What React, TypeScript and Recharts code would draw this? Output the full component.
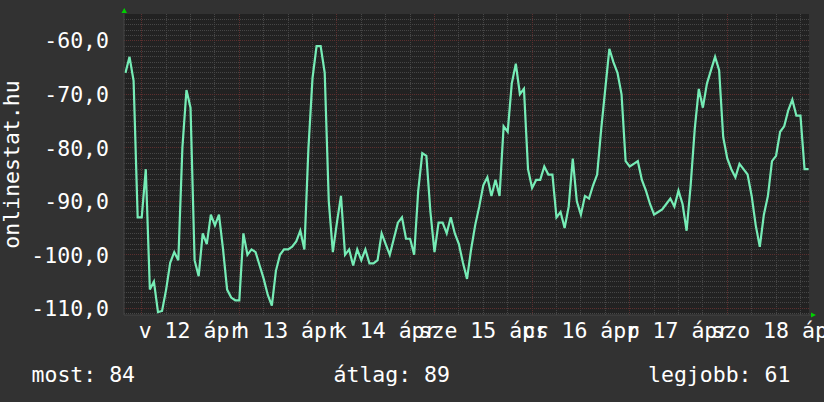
import {
  LineChart,
  Line,
  XAxis,
  YAxis,
  CartesianGrid,
  ReferenceLine,
  ReferenceDot,
} from 'recharts'

// hours relative to Apr 12 00:00, one sample per hour
const START_HOUR = -4
const SIGNAL = [
  -66, -63, -67.5, -93, -93, -84, -106.5, -105, -110.7, -110.5,
  -106.5, -101.5, -99.5, -101, -80, -69.2, -72.5, -101, -104, -96,
  -98, -92.5, -94.5, -92.5, -99, -106.5, -108, -108.5, -108.5, -96,
  -100, -99, -99.5, -102, -104.5, -107.5, -109.5, -103, -100, -99,
  -99, -98.5, -97.5, -95.5, -99, -80, -67, -61, -61, -66,
  -90, -99.5, -94, -89, -100, -99, -102, -99, -101, -99,
  -101.6, -101.6, -101, -96, -98, -100, -97, -94, -93, -97,
  -97, -100, -88, -81, -81.5, -92, -99.5, -94, -94, -96,
  -93, -96, -98, -101.5, -104.5, -99, -94.5, -91, -87, -85.5,
  -89, -86, -89, -76, -77, -68, -64.3, -70, -69, -84,
  -87.5, -86, -86, -83.5, -85, -85, -93, -92, -95, -91,
  -82, -90, -92.5, -89, -89.5, -87, -85, -76.5, -69, -61.5,
  -64, -66, -70, -82.5, -83.5, -83, -82.5, -86, -88, -90.5,
  -92.5, -92, -91.5, -90.5, -89.5, -91, -88, -90.5, -95.5, -87,
  -76.5, -69, -72.5, -68, -65.5, -63, -65.5, -78, -82, -84,
  -85.5, -83, -84, -85, -89, -94.5, -98.5, -92.5, -89, -82.5,
  -81.5, -77, -76, -73, -71, -74, -74, -84, -84,
]

const X_DOMAIN = [-4.36, 164.1]
const Y_DOMAIN = [-111.25, -55]
const Y_TICKS = [-110, -100, -90, -80, -70, -60]
const DAY_TICKS = [12, 36, 60, 84, 108, 132, 156]
const DAY_LABELS = ['v 12 ápr', 'h 13 ápr', 'k 14 ápr', 'sze 15 ápr', 'cs 16 ápr', 'p 17 ápr', 'szo 18 ápr']
const LEGEND_LABELS = ['most', 'átlag', 'legjobb']
const LEGEND_VALUES = [84, 89, 61]
const LEGEND_X = [31.5, 333.5, 648]

const FONT = '"DejaVu Sans Mono", monospace'
const FONT_SIZE = 21.5
const BACK = '#323232'
const CANVAS = '#222222'
const MINOR = '#464646'
const MAJOR = '#5c2f2f'
const LINE = '#76ECB6'
const ARROW = '#00d000'

const data = SIGNAL.map((v, i) => ({ t: START_HOUR + i, v }))

const minorY: number[] = []
for (let v = -111; v <= -56; v++) if (v % 10 !== 0) minorY.push(v)
const minorX: number[] = []
const majorX: number[] = []
for (let h = 0; h <= 162; h += 6) (h % 24 === 0 ? majorX : minorX).push(h)

const fmt = (v: number) => v.toFixed(1).replace('.', ',')

function YTick({ y, payload }: any) {
  return (
    <text x={109} y={y} dy="0.36em" textAnchor="end" fill="#fff" fontFamily={FONT} fontSize={FONT_SIZE}>
      {fmt(payload.value)}
    </text>
  )
}

function XTick({ x, payload }: any) {
  const label = DAY_LABELS[DAY_TICKS.indexOf(payload.value)]
  return (
    <text x={x} y={338} textAnchor="middle" fill="#fff" fontFamily={FONT} fontSize={FONT_SIZE}>
      {label}
    </text>
  )
}

function UpArrow({ cx, cy }: any) {
  return (
    <g>
      <line x1={cx} y1={cy} x2={cx} y2={cy + 301} stroke="#444" />
      <polygon points={`${cx - 2.5},${cy - 1} ${cx + 3},${cy - 1} ${cx + 0.25},${cy - 6}`} fill={ARROW} />
    </g>
  )
}

function RightArrow({ cx, cy }: any) {
  return (
    <g>
      <line x1={cx - 685} y1={cy} x2={cx + 3} y2={cy} stroke="#444" />
      <polygon points={`${cx + 2},${cy - 2.5} ${cx + 2},${cy + 2.5} ${cx + 7},${cy}`} fill={ARROW} />
    </g>
  )
}

export default function App() {
  return (
    <div style={{ position: 'relative', width: 824, height: 402, overflow: 'hidden', background: BACK }}>
      <style>{'body{margin:0}'}</style>
      <LineChart width={824} height={402} data={data} margin={{ top: 14, right: 15, bottom: 57, left: 0 }}>
        <CartesianGrid fill={CANVAS} horizontal={false} vertical={false} stroke="none" />
        <XAxis
          type="number"
          dataKey="t"
          domain={X_DOMAIN}
          ticks={DAY_TICKS}
          interval={0}
          tick={<XTick />}
          axisLine={false}
          tickLine={false}
          height={30}
          allowDataOverflow
        />
        <YAxis
          type="number"
          domain={Y_DOMAIN}
          ticks={Y_TICKS}
          tick={<YTick />}
          axisLine={false}
          tickLine={false}
          width={124}
          allowDataOverflow
        />
        {minorY.map((v) => (
          <ReferenceLine key={'my' + v} y={v} stroke={MINOR} strokeDasharray="1 1" shapeRendering="crispEdges" />
        ))}
        {minorX.map((h) => (
          <ReferenceLine key={'mx' + h} x={h} stroke={MINOR} strokeDasharray="1 1" shapeRendering="crispEdges" />
        ))}
        {Y_TICKS.map((v) => (
          <ReferenceLine key={'My' + v} y={v} stroke={MAJOR} strokeDasharray="1 1" shapeRendering="crispEdges" />
        ))}
        {majorX.map((h) => (
          <ReferenceLine key={'Mx' + h} x={h} stroke={MAJOR} strokeDasharray="1 1" shapeRendering="crispEdges" />
        ))}
        <Line
          type="linear"
          dataKey="v"
          stroke={LINE}
          strokeWidth={2.2}
          dot={false}
          activeDot={false}
          isAnimationActive={false}
        />
        <ReferenceDot x={X_DOMAIN[0]} y={Y_DOMAIN[1]} r={0} ifOverflow="visible" shape={<UpArrow />} />
        <ReferenceDot x={X_DOMAIN[1]} y={Y_DOMAIN[0]} r={0} ifOverflow="visible" shape={<RightArrow />} />
      </LineChart>
      <svg width={824} height={402} style={{ position: 'absolute', left: 0, top: 0, pointerEvents: 'none' }}>
        <text
          transform="translate(18.5,164.5) rotate(-90)"
          textAnchor="middle"
          fill="#fff"
          fontFamily={FONT}
          fontSize={FONT_SIZE}
        >
          onlinestat.hu
        </text>
        {LEGEND_LABELS.map((l, i) => (
          <text key={l} x={LEGEND_X[i]} y={382} fill="#fff" fontFamily={FONT} fontSize={FONT_SIZE}>
            {`${l}: ${LEGEND_VALUES[i]}`}
          </text>
        ))}
      </svg>
    </div>
  )
}
